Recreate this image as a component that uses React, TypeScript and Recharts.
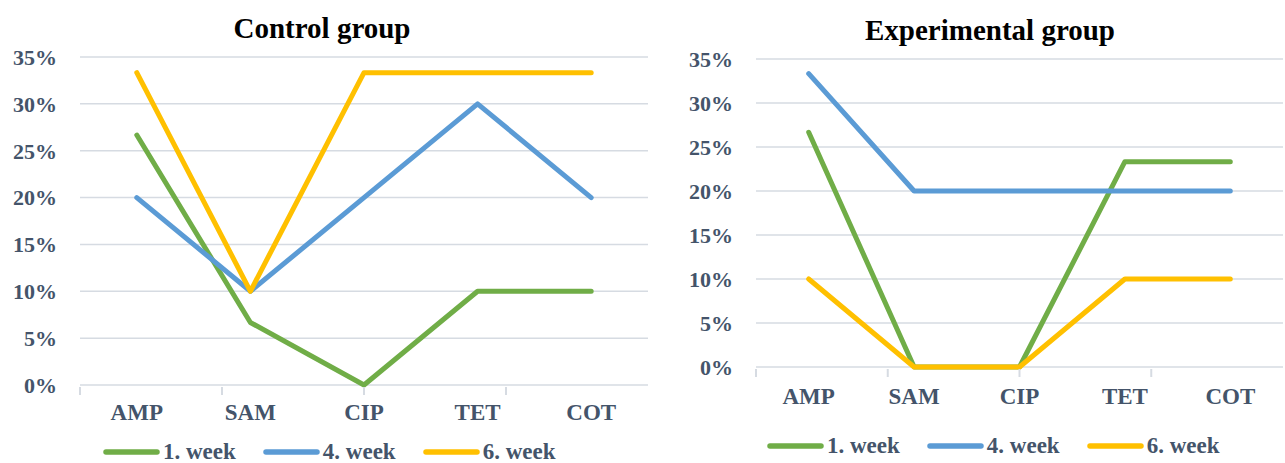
import React from "react"
import { CartesianGrid, Line, LineChart, XAxis, YAxis } from "recharts"

const categories = ["AMP", "SAM", "CIP", "TET", "COT"]
const seriesNames = ["1. week", "4. week", "6. week"]
const seriesColors = ["#70AD47", "#5B9BD5", "#FFC000"]
const yTicks = [0, 5, 10, 15, 20, 25, 30, 35]

// values in %
const controlWeek1 = [26.67, 6.67, 0, 10, 10]
const controlWeek4 = [20, 10, 20, 30, 20]
const controlWeek6 = [33.33, 10, 33.33, 33.33, 33.33]

const experimentalWeek1 = [26.67, 0, 0, 23.33, 23.33]
const experimentalWeek4 = [33.33, 20, 20, 20, 20]
const experimentalWeek6 = [10, 0, 0, 10, 10]

const FONT = "'Liberation Serif', 'Times New Roman', serif"
const TEXT = "#44546A"
const GRID = "#D6DBE2"

const buildRows = (w1: number[], w4: number[], w6: number[]) =>
    categories.map((name, i) => ({ name, w1: w1[i], w4: w4[i], w6: w6[i] }))

const controlData = buildRows(controlWeek1, controlWeek4, controlWeek6)
const experimentalData = buildRows(experimentalWeek1, experimentalWeek4, experimentalWeek6)
const edgeTicks = categories.map((_, i) => i).concat(categories.length)

// axis ids: the edge-tick axis sorts first so it sits right on the plot
const EDGE_AXIS = "a-edges"
const CAT_AXIS = "b-cat"

type PanelProps = {
    data: { name: string; w1: number; w4: number; w6: number }[]
    width: number
    height: number
    margin: { top: number; right: number; bottom: number; left: number }
    yAxisWidth: number
    xAxisHeight: number
    catMargin: number
}

function Panel({ data, width, height, margin, yAxisWidth, xAxisHeight, catMargin }: PanelProps) {
    const keys = ["w1", "w4", "w6"]
    // half a category band on each side, so points sit in the middle of each band
    const plotWidth = width - margin.left - margin.right - yAxisWidth
    const half = plotWidth / categories.length / 2
    return (
        <LineChart width={width} height={height} data={data} margin={margin}>
            {/* grid also draws the 0% base line, underneath the series */}
            <CartesianGrid vertical={false} stroke={GRID} strokeWidth={1.5} />
            {/* tick marks between categories, like the source */}
            <XAxis
                xAxisId={EDGE_AXIS}
                type="number"
                domain={[0, categories.length]}
                ticks={edgeTicks}
                tick={() => <g />}
                tickSize={8}
                tickLine={{ stroke: GRID, strokeWidth: 2, transform: "translate(0,2)" }}
                axisLine={false}
                height={1}
            />
            <XAxis
                xAxisId={CAT_AXIS}
                dataKey="name"
                axisLine={false}
                tickLine={false}
                tickMargin={catMargin}
                height={xAxisHeight - 1}
                interval={0}
                padding={{ left: half, right: half }}
                tick={{ fill: TEXT, fontSize: 23, fontWeight: 700, fontFamily: FONT }}
            />
            <YAxis
                width={yAxisWidth}
                domain={[0, 35]}
                ticks={yTicks}
                axisLine={false}
                tickLine={false}
                tickMargin={17}
                tickFormatter={(v: number) => `${v}%`}
                tick={{ fill: TEXT, fontSize: 22, fontWeight: 700, fontFamily: FONT }}
            />
            {keys.map((k, i) => (
                <Line
                    key={k}
                    xAxisId={CAT_AXIS}
                    dataKey={k}
                    name={seriesNames[i]}
                    stroke={seriesColors[i]}
                    strokeWidth={5}
                    strokeLinecap="round"
                    strokeLinejoin="round"
                    dot={false}
                    activeDot={false}
                    isAnimationActive={false}
                />
            ))}
        </LineChart>
    )
}

function LegendRow({ left, top }: { left: number; top: number }) {
    return (
        <div style={{ position: "absolute", left, top, display: "flex", alignItems: "center", gap: 27 }}>
            {seriesNames.map((name, i) => (
                <div key={name} style={{ display: "flex", alignItems: "center", gap: 3 }}>
                    <svg width={57} height={10}>
                        <line x1={3} y1={5} x2={54} y2={5} stroke={seriesColors[i]} strokeWidth={5.5} strokeLinecap="round" />
                    </svg>
                    <span style={{ fontFamily: FONT, fontWeight: 700, fontSize: 23, color: TEXT, lineHeight: "24px" }}>{name}</span>
                </div>
            ))}
        </div>
    )
}

function Title({ text, cx, cy }: { text: string; cx: number; cy: number }) {
    return (
        <div
            style={{
                position: "absolute",
                left: cx - 200,
                width: 400,
                top: cy - 17,
                textAlign: "center",
                fontFamily: FONT,
                fontWeight: 700,
                fontSize: 29,
                lineHeight: "34px",
                color: "#000"
            }}
        >
            {text}
        </div>
    )
}

export default function App() {
    return (
        <div style={{ position: "absolute", left: 0, top: 0, width: 1285, height: 463, background: "#fff", overflow: "hidden" }}>
            <div style={{ position: "absolute", left: 0, top: 0 }}>
                <Panel
                    data={controlData}
                    width={648}
                    height={463}
                    margin={{ top: 57, right: 0, bottom: 0, left: 0 }}
                    yAxisWidth={80}
                    xAxisHeight={78}
                    catMargin={12}
                />
            </div>
            <div style={{ position: "absolute", left: 648, top: 0 }}>
                <Panel
                    data={experimentalData}
                    width={637}
                    height={463}
                    margin={{ top: 59, right: 2, bottom: 0, left: 0 }}
                    yAxisWidth={108}
                    xAxisHeight={96}
                    catMargin={14}
                />
            </div>
            <Title text="Control group" cx={322} cy={28} />
            <Title text="Experimental group" cx={990} cy={30} />
            <LegendRow left={103} top={440} />
            <LegendRow left={767} top={434} />
        </div>
    )
}
